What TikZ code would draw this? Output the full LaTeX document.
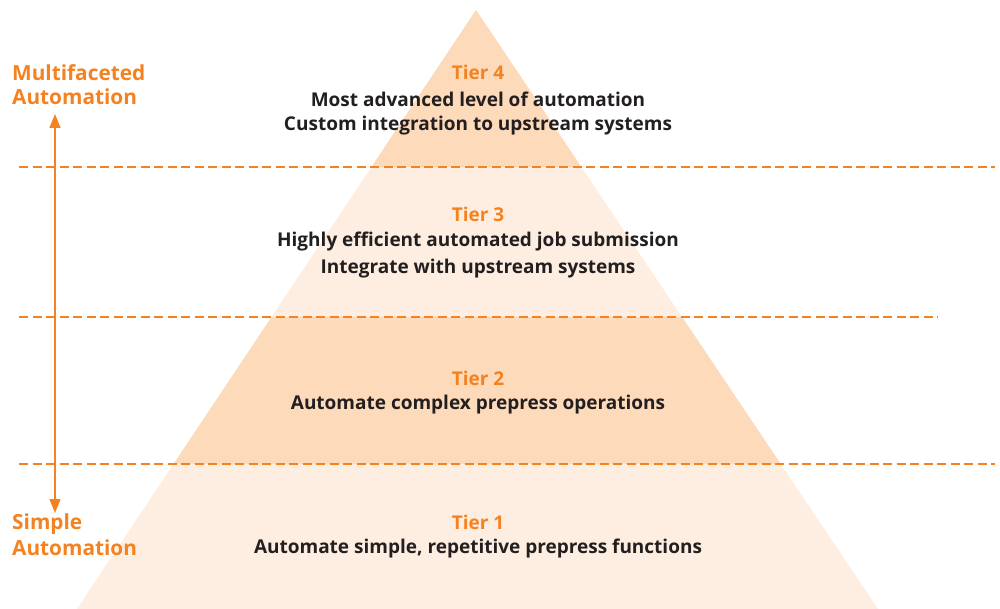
\documentclass[tikz,border=0pt]{standalone}
\usepackage{fontspec}
\setmainfont{Open Sans}
\usetikzlibrary{arrows.meta}
\definecolor{xorange}{HTML}{F58220}
\definecolor{bandDark}{HTML}{FDDAB9}
\definecolor{bandLight}{HTML}{FDEEE1}
\definecolor{txt}{HTML}{231F20}
\tikzset{
  tierhead/.style={text=xorange, font=\fontsize{19}{22}\selectfont\bfseries, inner sep=0pt},
  tierline/.style={text=txt, font=\fontsize{19}{22}\selectfont\bfseries, inner sep=0pt},
  sidelabel/.style={text=xorange, font=\fontsize{20.8}{24}\selectfont\bfseries, inner sep=0pt, anchor=west},
  divider/.style={draw=xorange, line width=2.8pt, dash pattern=on 9pt off 4.5pt},
  scalearrow/.style={draw=xorange, line width=1.3pt, {Triangle[length=14pt,width=11pt]}-{Triangle[length=14pt,width=11pt]}}
}
\begin{document}
\begin{tikzpicture}[x=1pt,y=-1pt]
\useasboundingbox (0,0) rectangle (1000,609);
% pyramid
\fill[bandLight] (476,10) -- (878,609) -- (77,609) -- cycle;
\begin{scope}
\clip (476,10) -- (878,609) -- (77,609) -- cycle;
\fill[bandDark] (0,0) rectangle (1000,167);
\fill[bandDark] (0,317) rectangle (1000,464);
\end{scope}
% dividers
\draw[divider] (19,167) -- (995,167);
\draw[divider] (19,317) -- (938,317);
\draw[divider] (19,464) -- (995,464);
% arrow
\coordinate (atop) at (55,114);
\coordinate (abot) at (55,513);
\draw[scalearrow] (atop) -- (abot);
% side labels
\node[sidelabel] (m1) at (12,73) {Multifaceted};
\node[sidelabel] (m2) at (12,97) {Automation};
\node[sidelabel] (s1) at (12,524) {Simple};
\node[sidelabel] (s2) at (12,548) {Automation};
% tier 4
\node[tierhead] (t4) at (478,72) {Tier 4};
\node[tierline] (t4a) at (478,99) {Most advanced level of automation};
\node[tierline] (t4b) at (478,126) {Custom integration to upstream systems};
% tier 3
\node[tierhead] (t3) at (478,214) {Tier 3};
\node[tierline] (t3a) at (478,242) {Highly efficient automated job submission};
\node[tierline] (t3b) at (478,269) {Integrate with upstream systems};
% tier 2
\node[tierhead] (t2) at (478,378) {Tier 2};
\node[tierline] (t2a) at (478,405) {Automate complex prepress operations};
% tier 1
\node[tierhead] (t1) at (478,522) {Tier 1};
\node[tierline] (t1a) at (478,549) {Automate simple, repetitive prepress functions};
\end{tikzpicture}
\end{document}
